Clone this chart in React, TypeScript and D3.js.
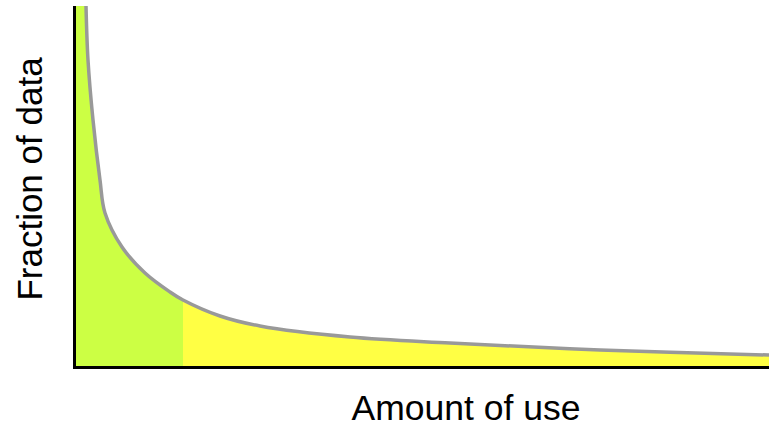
import React from "react";
import * as d3 from "d3";

const usage = [1.585, 1.873, 2.594, 3.602, 4.323, 6.772, 10.09, 13.69, 15.56, 20.89, 26.66, 39.63, 54.03, 75.65, 100];
const fraction = [100, 85.04, 68.42, 51.8, 42.66, 33.24, 26.04, 20.78, 18.56, 14.13, 11.36, 8.31, 6.65, 4.71, 3.32];
const splitAt = 15.56;
const xLabel = "Amount of use";
const yLabel = "Fraction of data";

const W = 769;
const H = 428;
const left = 75;
const right = 769;
const top = 6;
const bottom = 367;

export default function App() {
  const x = d3.scaleLinear().domain([0, 100]).range([left, right]);
  const y = d3.scaleLinear().domain([0, 100]).range([bottom, top]);
  const pts = usage.map((u, i) => [u, fraction[i]] as [number, number]);
  const line = d3
    .line<[number, number]>()
    .x((d) => x(d[0]))
    .y((d) => y(d[1]))
    .curve(d3.curveCatmullRom.alpha(0.5));
  const area = d3
    .area<[number, number]>()
    .x((d) => x(d[0]))
    .y0(y(0))
    .y1((d) => y(d[1]))
    .curve(d3.curveCatmullRom.alpha(0.5));
  const areaD = area(pts) || "";
  const lineD = line(pts) || "";
  const font = "'Liberation Sans', Arial, Helvetica, sans-serif";
  return (
    <svg
      width={W}
      height={H}
      style={{ position: "absolute", left: 0, top: 0, background: "#fff" }}
    >
      <defs>
        <clipPath id="cg">
          <rect x={x(0)} y={top} width={x(splitAt) - x(0)} height={bottom - top} />
        </clipPath>
        <clipPath id="cy">
          <rect x={x(splitAt)} y={top} width={x(100) - x(splitAt)} height={bottom - top} />
        </clipPath>
        <clipPath id="plot">
          <rect x={0} y={top} width={W} height={H} />
        </clipPath>
      </defs>
      <rect x={x(0)} y={top} width={x(usage[0]) - x(0)} height={bottom - top} fill="#ccff44" />
      <path d={areaD} fill="#ccff44" clipPath="url(#cg)" />
      <path d={areaD} fill="#ffff44" clipPath="url(#cy)" />
      <path
        d={lineD}
        fill="none"
        stroke="#999999"
        strokeWidth={3.5}
        clipPath="url(#plot)"
      />
      <line x1={74.5} y1={top} x2={74.5} y2={369} stroke="#000" strokeWidth={3} />
      <line x1={73} y1={367.5} x2={W} y2={367.5} stroke="#000" strokeWidth={3} />
      <text
        x={466}
        y={420}
        textAnchor="middle"
        fontFamily={font}
        fontSize={35.5}
        fill="#000"
      >
        {xLabel}
      </text>
      <text
        transform="translate(42,179) rotate(-90)"
        textAnchor="middle"
        fontFamily={font}
        fontSize={35}
        fill="#000"
      >
        {yLabel}
      </text>
    </svg>
  );
}
